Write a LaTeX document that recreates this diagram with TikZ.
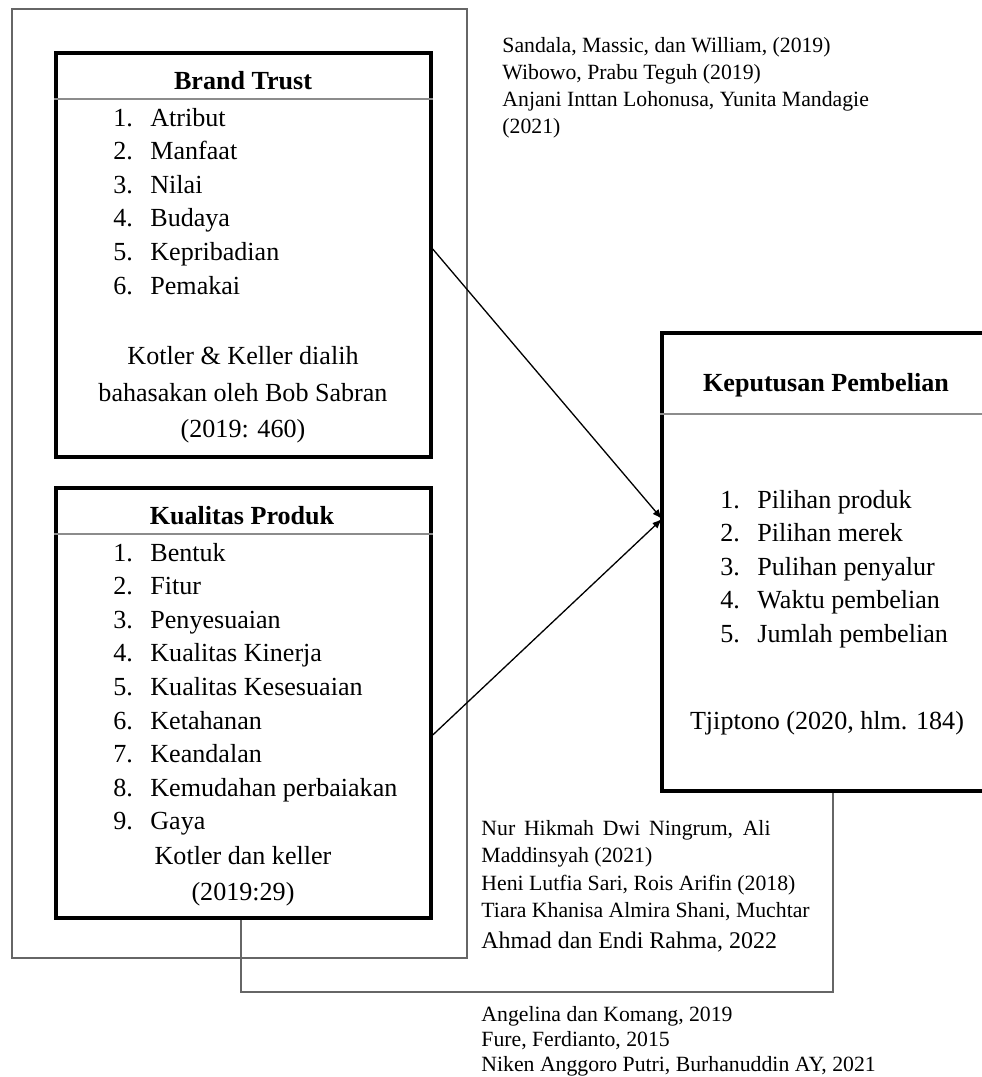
\documentclass[tikz,border=0pt]{standalone}
\usepackage{fontspec}
\setmainfont{Liberation Serif}
\usetikzlibrary{arrows.meta,fit}
\definecolor{framegray}{rgb}{0.4,0.4,0.4}
\definecolor{rulegray}{rgb}{0.55,0.55,0.55}

\begin{document}
\begin{tikzpicture}[x=0.46pt, y=-0.46pt,
    varbox/.style={draw, line width=1.6pt, inner sep=0pt},
    headrule/.style={rulegray, line width=0.9pt},
    title/.style={anchor=base, inner sep=0pt, font=\fontsize{12}{14}\selectfont\bfseries},
    item/.style={anchor=base west, inner sep=0pt, font=\fontsize{12}{14}\selectfont},
    srcline/.style={anchor=base, inner sep=0pt, font=\fontsize{12}{14}\selectfont},
    refnote/.style={anchor=base west, inner sep=0pt, font=\fontsize{10}{12}\selectfont},
    link/.style={framegray, line width=0.7pt},
    infl/.style={-{Latex[length=4.5pt,width=3.5pt]}, line width=0.6pt}]
  \useasboundingbox (0,0) rectangle (982,1077);
  \clip (0,0) rectangle (982,1077);
  \draw[framegray, line width=0.7pt] (12,9) rectangle (467,958);
  \node[varbox, fit={(56,53) (431,457)}] (bt) {};
  \node[varbox, fit={(56,488) (431,918)}] (kp) {};
  \node[varbox, fit={(662,333) (990,791)}] (kep) {};
  \draw[headrule] (bt.west |- 0,99) -- (bt.east |- 0,99);
  \draw[headrule] (kp.west |- 0,534) -- (kp.east |- 0,534);
  \draw[headrule] (kep.west |- 0,414) -- (kep.east |- 0,414);

  \node[title] (bttitle) at (243,89) {Brand Trust};
  \foreach \t [count=\n] in {Atribut,Manfaat,Nilai,Budaya,Kepribadian,Pemakai}
    \node[item] (bt-\n) at (113,{126+33.6*(\n-1)}) {\makebox[17pt][l]{\n.}\t};
  \node[srcline] (btsrc1) at (243,364) {Kotler \& Keller dialih};
  \node[srcline] (btsrc2) at (243,401) {bahasakan oleh Bob Sabran};
  \node[srcline] (btsrc3) at (243,437) {(2019: 460)};

  \node[title] (kptitle) at (242,524) {Kualitas Produk};
  \foreach \t [count=\n] in {Bentuk,Fitur,Penyesuaian,Kualitas Kinerja,Kualitas Kesesuaian,Ketahanan,Keandalan,Kemudahan perbaiakan,Gaya}
    \node[item] (kp-\n) at (113,{561+33.6*(\n-1)}) {\makebox[17pt][l]{\n.}\t};
  \node[srcline] (kpsrc1) at (243,864) {Kotler dan keller};
  \node[srcline] (kpsrc2) at (243,900) {(2019:29)};

  \node[title] (keptitle) at (826,391) {Keputusan Pembelian};
  \foreach \t [count=\n] in {Pilihan produk,Pilihan merek,Pulihan penyalur,Waktu pembelian,Jumlah pembelian}
    \node[item] (kep-\n) at (720,{508+33.5*(\n-1)}) {\makebox[17pt][l]{\n.}\t};
  \node[srcline] (kepsrc) at (827,729) {Tjiptono (2020, hlm. 184)};

  \foreach \t [count=\n] in {{Sandala, Massic, dan William, (2019)},{Wibowo, Prabu Teguh (2019)},{Anjani Inttan Lohonusa, Yunita Mandagie},{(2021)}}
    \node[refnote] (top-\n) at (502,{52+27.3*(\n-1)}) {\t};

  \node[refnote] (mid-1) at (481,835) {\makebox[133pt][s]{Nur Hikmah Dwi Ningrum, Ali}};
  \node[refnote] (mid-2) at (481,862) {Maddinsyah (2021)};
  \node[refnote] (mid-3) at (481,890) {Heni Lutfia Sari, Rois Arifin (2018)};
  \node[refnote] (mid-4) at (481,917) {Tiara Khanisa Almira Shani, Muchtar};
  \node[refnote, font=\fontsize{11}{13}\selectfont] (mid-5) at (481,948) {Ahmad dan Endi Rahma, 2022};

  \foreach \t [count=\n] in {{Angelina dan Komang, 2019},{Fure, Ferdianto, 2015},{Niken Anggoro Putri, Burhanuddin AY, 2021}}
    \node[refnote] (low-\n) at (481,{1021+25*(\n-1)}) {\t};

  \coordinate (meet) at (662,519);
  \draw[infl] (bt.east |- 0,249) -- (meet);
  \draw[infl] (kp.east |- 0,735) -- (meet);

  \coordinate (bendl) at (241,992);
  \coordinate (bendr) at (833,992);
  \draw[link] (kp.south -| bendl) -- (bendl) -- (bendr) -- (kep.south -| bendr);
\end{tikzpicture}
\end{document}
